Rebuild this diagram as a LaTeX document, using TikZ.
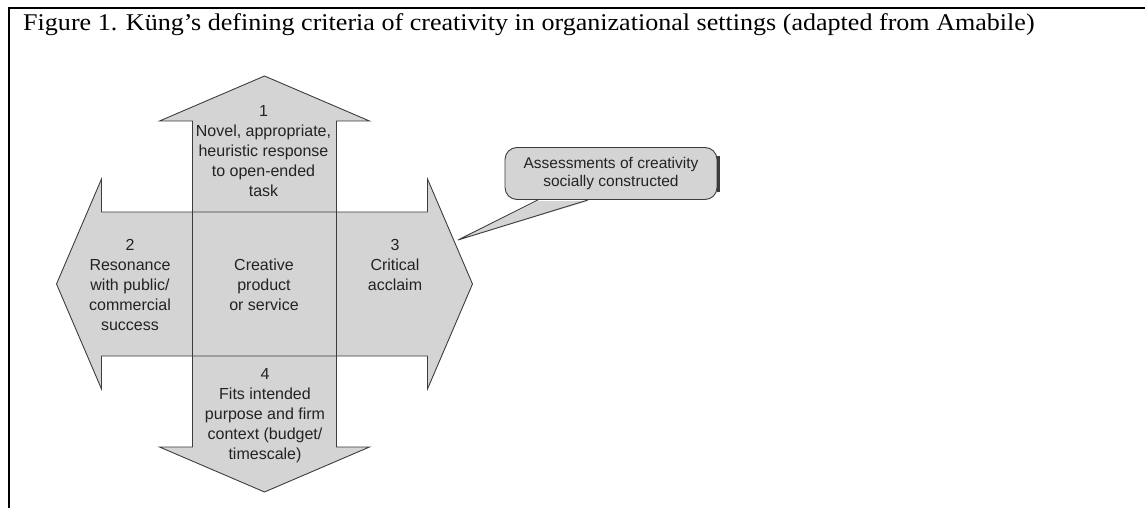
\documentclass[tikz,border=0pt]{standalone}
\usepackage{fontspec}
\setmainfont{Liberation Serif}
\newfontfamily\labelfont{Liberation Sans}
\definecolor{crossfill}{RGB}{212,212,212}
\definecolor{crossline}{RGB}{60,60,60}
\definecolor{labeltext}{RGB}{35,35,35}
\begin{document}
\begin{tikzpicture}[x=1pt,y=-1pt,
  crossbody/.style={fill=crossfill},
  crossedge/.style={draw=crossline,line width=0.9pt,line join=miter},
  celltext/.style={inner sep=0pt,align=center,text=labeltext,
    font=\labelfont\fontsize{16}{20}\selectfont},
  notebox/.style={draw=crossline,fill=crossfill,line width=0.9pt,rounded corners=12pt,
    minimum width=212pt,minimum height=52pt,inner sep=0pt,align=center,text=labeltext,
    font=\labelfont\fontsize{15.5}{18.3}\selectfont},
  frameline/.style={draw=black,line width=2pt}]
\useasboundingbox (0,0) rectangle (1145,508);
\fill[white] (0,0) rectangle (1145,508);

% open frame: top and left rules only
\draw[frameline] (8.5,8.5) -- (1145,8.5);
\draw[frameline] (8.5,7.5) -- (8.5,508);

% caption
\node[anchor=base west,inner sep=0pt,font=\fontsize{24}{28}\selectfont] (caption) at (23,31)
  {\scalebox{1.086}[1]{Figure 1. Küng’s defining criteria of creativity in organizational settings (adapted from Amabile)}};

% four-way arrow cross
\begin{scope}[shift={(264.5,284)}]
  \fill[crossbody] (0,-208) -- (105,-163) -- (72,-163) -- (72,-72) -- (163,-72) -- (163,-105)
    -- (208,0) -- (163,105) -- (163,72) -- (72,72) -- (72,163) -- (105,163) -- (0,208)
    -- (-105,163) -- (-72,163) -- (-72,72) -- (-163,72) -- (-163,105) -- (-208,0)
    -- (-163,-105) -- (-163,-72) -- (-72,-72) -- (-72,-163) -- (-105,-163) -- cycle;
  % vertical double arrow outline
  \draw[crossedge] (0,-208) -- (105,-163) -- (72,-163) -- (72,163) -- (105,163) -- (0,208)
    -- (-105,163) -- (-72,163) -- (-72,-163) -- (-105,-163) -- cycle;
  % horizontal double arrow outline
  \draw[crossedge] (-208,0) -- (-163,-105) -- (-163,-72) -- (163,-72) -- (163,-105) -- (208,0)
    -- (163,105) -- (163,72) -- (-163,72) -- (-163,105) -- cycle;
\end{scope}

% cell labels
\node[celltext] (top) at (263.5,151) {1\\Novel, appropriate,\\heuristic response\\to open-ended\\task};
\node[celltext] (left) at (130,284.5) {2\\Resonance\\with public/\\commercial\\success};
\node[celltext] (centre) at (264,284.5) {Creative\\product\\or service};
\node[celltext] (right) at (395,264.5) {3\\Critical\\acclaim};
\node[celltext] (bottom) at (265,416) {4\\Fits intended\\purpose and firm\\context (budget/\\timescale)};

% callout
\node[notebox] (note) at (611,173.5) {Assessments of creativity\\socially constructed};
\draw[crossline,line width=2.4pt] ([xshift=1pt,yshift=-18pt]note.east) -- ([xshift=1pt,yshift=18pt]note.east);
\coordinate (pointer) at (458,240);
\fill[crossfill] ([xshift=-73pt,yshift=-1.2pt]note.south) -- (pointer) -- ([xshift=-23pt,yshift=-1.2pt]note.south) -- cycle;
\draw[crossline,line width=0.9pt,line join=miter] ([xshift=-73pt]note.south) -- (pointer) -- ([xshift=-23pt]note.south);
\end{tikzpicture}
\end{document}
